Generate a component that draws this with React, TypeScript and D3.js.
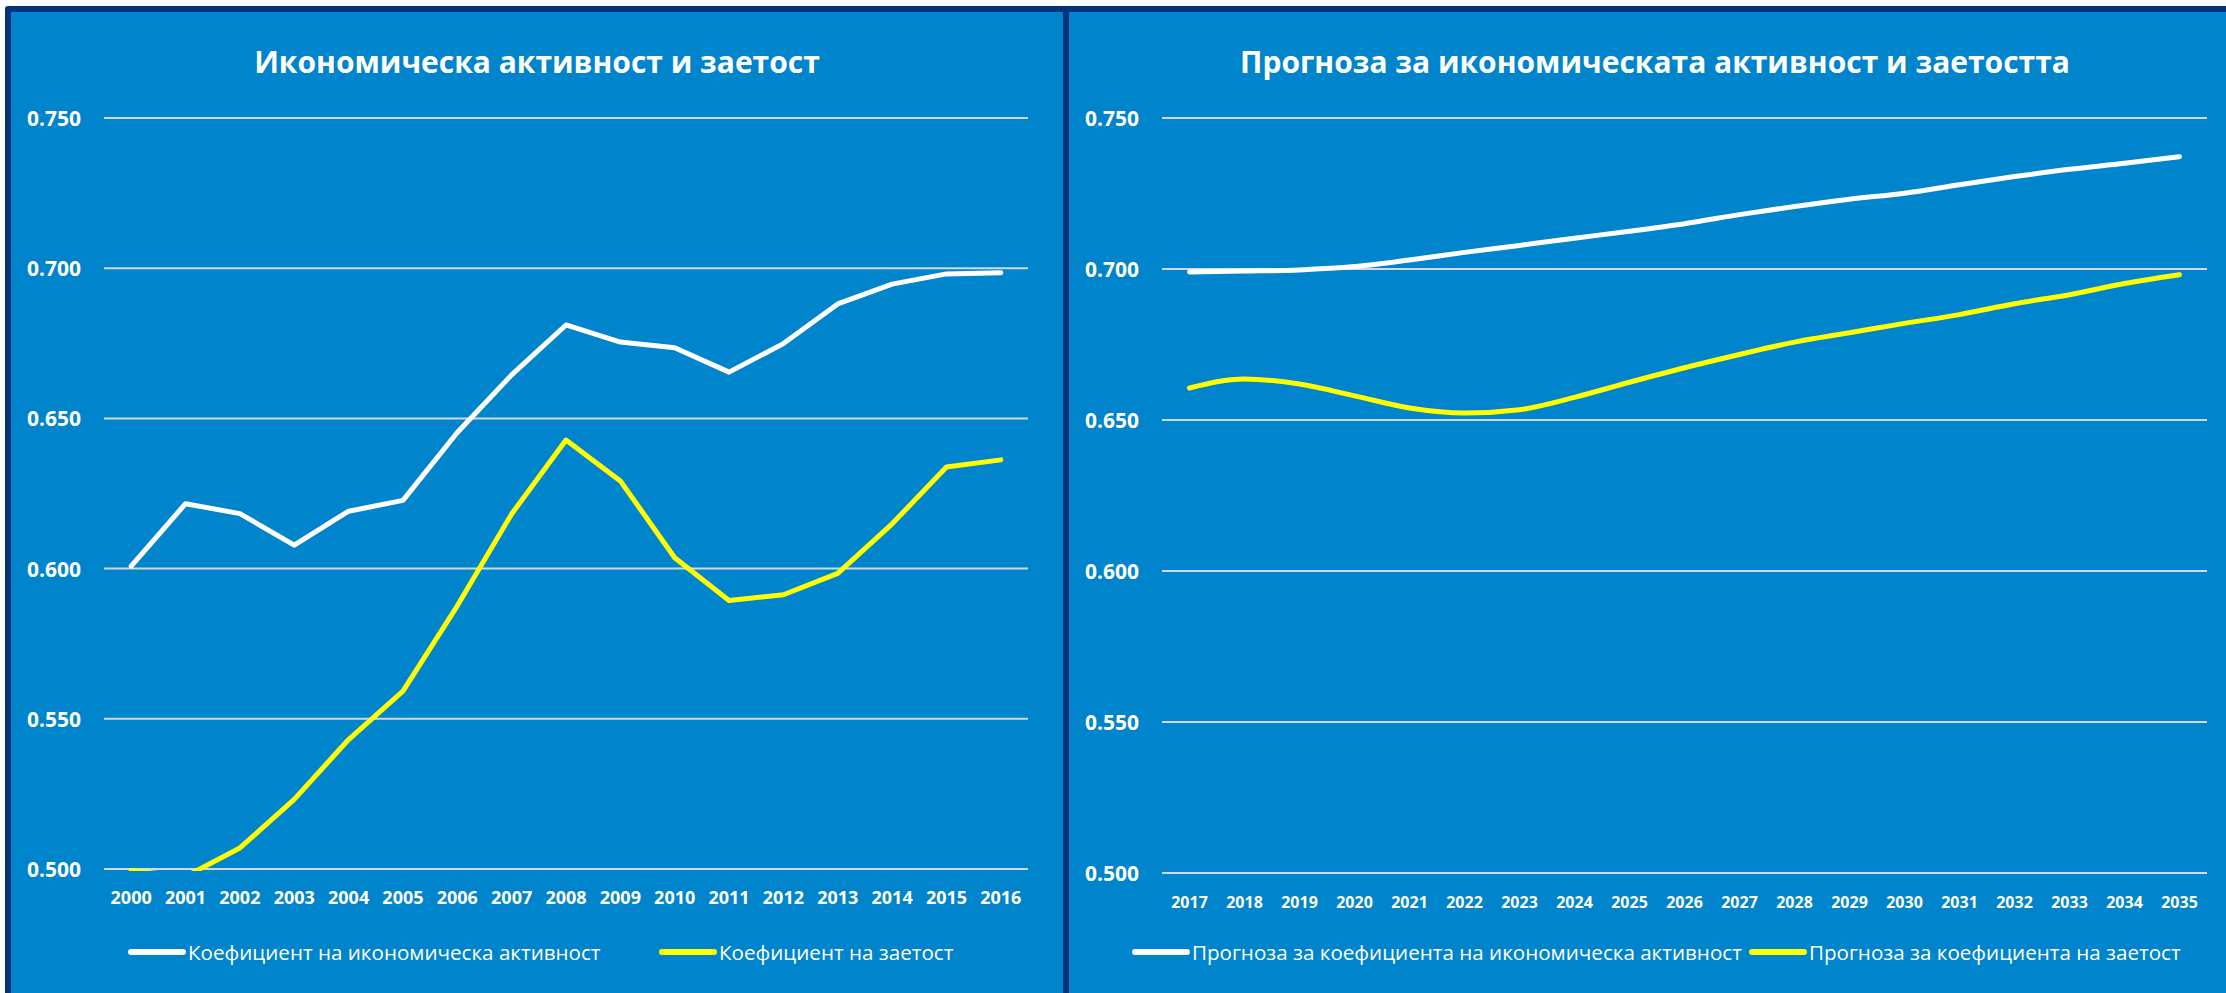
import React from 'react';
import * as d3 from 'd3';

// left chart: 2000-2016
const yearsPast = ['2000','2001','2002','2003','2004','2005','2006','2007','2008','2009','2010','2011','2012','2013','2014','2015','2016'];
const activityPast = [0.6008,0.6216,0.6183,0.6078,0.6191,0.6227,0.6453,0.6645,0.6811,0.6754,0.6735,0.6654,0.6749,0.6881,0.6947,0.6981,0.6985];
const employmentPast = [0.4995,0.4975,0.5070,0.5232,0.5431,0.5592,0.5876,0.6182,0.6428,0.6292,0.6036,0.5894,0.5913,0.5984,0.6149,0.6338,0.6362];

// right chart: forecast 2017-2035
const yearsForecast = ['2017','2018','2019','2020','2021','2022','2023','2024','2025','2026','2027','2028','2029','2030','2031','2032','2033','2034','2035'];
const activityForecast = [0.6990,0.6993,0.6997,0.7008,0.7030,0.7055,0.7078,0.7102,0.7125,0.7150,0.7180,0.7207,0.7231,0.7251,0.7279,0.7306,0.7330,0.7350,0.7372];
const employmentForecast = [0.6606,0.6636,0.6619,0.6580,0.6540,0.6523,0.6534,0.6575,0.6625,0.6673,0.6717,0.6758,0.6789,0.6820,0.6849,0.6885,0.6915,0.6952,0.6981];

const yTicks = [0.5, 0.55, 0.6, 0.65, 0.7, 0.75];

const BLUE = '#0084CC';
const NAVY = '#00337A';
const GRID = '#D0D8E0';
const YELLOW = '#FFFF00';
const FONT = '"Open Sans", sans-serif';

type Series = { name: string, values: number[], color: string };

type PanelProps = {
  title: string,
  titleX: number,
  years: string[],
  series: Series[],
  plotLeft: number,
  plotRight: number,
  plotTop: number,
  plotBottom: number,
  labelRight: number,
  xFont: number,
  legendFont: number,
  smooth: boolean,
  legendX: number[],
  clipId: string,
}

const Panel: React.FC<PanelProps> = ({title, titleX, years, series, plotLeft, plotRight, plotTop, plotBottom, labelRight, xFont, legendFont, smooth, legendX, clipId}) => {
  const xScale = d3.scaleBand<string>().domain(years).range([plotLeft, plotRight]);
  const yScale = d3.scaleLinear().domain([0.5, 0.75]).range([plotBottom, plotTop]);
  const cx = (y: string) => (xScale(y) as number) + xScale.bandwidth() / 2;
  const line = d3.line<number>()
    .x((_, i) => cx(years[i]))
    .y(d => yScale(d))
    .curve(smooth ? d3.curveMonotoneX : d3.curveLinear);

  return (
    <g>
      <text x={titleX} y={73} fill="white" fontSize={30} fontWeight="bold" textAnchor="middle" fontFamily={FONT}>{title}</text>
      {yTicks.map(t => (
        <g key={t}>
          <line x1={plotLeft} x2={plotRight} y1={yScale(t)} y2={yScale(t)} stroke={GRID} strokeWidth={2}/>
          <text x={labelRight} y={yScale(t) + 8} fill="white" fontSize={21} fontWeight="bold" textAnchor="end" fontFamily={FONT}>{t.toFixed(3)}</text>
        </g>
      ))}
      {years.map(y => (
        <text key={y} x={cx(y)} y={plotBottom + 35} fill="white" fontSize={xFont} fontWeight="bold" textAnchor="middle" fontFamily={FONT}>{y}</text>
      ))}
      <clipPath id={clipId}>
        <rect x={plotLeft - 10} y={plotTop - 10} width={plotRight - plotLeft + 20} height={plotBottom - plotTop + 12}/>
      </clipPath>
      <g clipPath={`url(#${clipId})`}>
        {series.map(s => (
          <path key={s.name} d={line(s.values) || ''} fill="none" stroke={s.color} strokeWidth={5} strokeLinecap="round" strokeLinejoin="round"/>
        ))}
      </g>
      {series.map((s, i) => (
        <g key={s.name} transform={`translate(${legendX[i]}, 952)`}>
          <line x1={0} x2={52} stroke={s.color} strokeWidth={6} strokeLinecap="round"/>
          <text x={57} y={8} fill="white" fontSize={legendFont} fontFamily={FONT}>{s.name}</text>
        </g>
      ))}
    </g>
  );
}

const App: React.FC = () => {
  const width = 2226;
  const height = 993;
  return (
    <svg width={width} height={height} style={{position: 'absolute', left: 0, top: 0, background: 'white'}}>
      <rect x={5} y={6} width={width} height={height} fill={NAVY} rx={3}/>
      <rect x={11} y={12} width={1052} height={height} fill={BLUE}/>
      <rect x={1069} y={12} width={width - 1069} height={height} fill={BLUE}/>
      <Panel
        title="Икономическа активност и заетост"
        titleX={537}
        years={yearsPast}
        series={[
          {name: 'Коефициент на икономическа активност', values: activityPast, color: 'white'},
          {name: 'Коефициент на заетост', values: employmentPast, color: YELLOW},
        ]}
        plotLeft={104} plotRight={1028} plotTop={118} plotBottom={869}
        labelRight={81} xFont={18} legendFont={20.6} smooth={false}
        legendX={[131, 662]} clipId="clipL"
      />
      <Panel
        title="Прогноза за икономическата активност и заетостта"
        titleX={1655}
        years={yearsForecast}
        series={[
          {name: 'Прогноза за коефициента на икономическа активност', values: activityForecast, color: 'white'},
          {name: 'Прогноза за коефициента на заетост', values: employmentForecast, color: YELLOW},
        ]}
        plotLeft={1162} plotRight={2207} plotTop={118} plotBottom={873}
        labelRight={1139} xFont={16} legendFont={20.6} smooth={true}
        legendX={[1135, 1752]} clipId="clipR"
      />
    </svg>
  );
}

export default App;
